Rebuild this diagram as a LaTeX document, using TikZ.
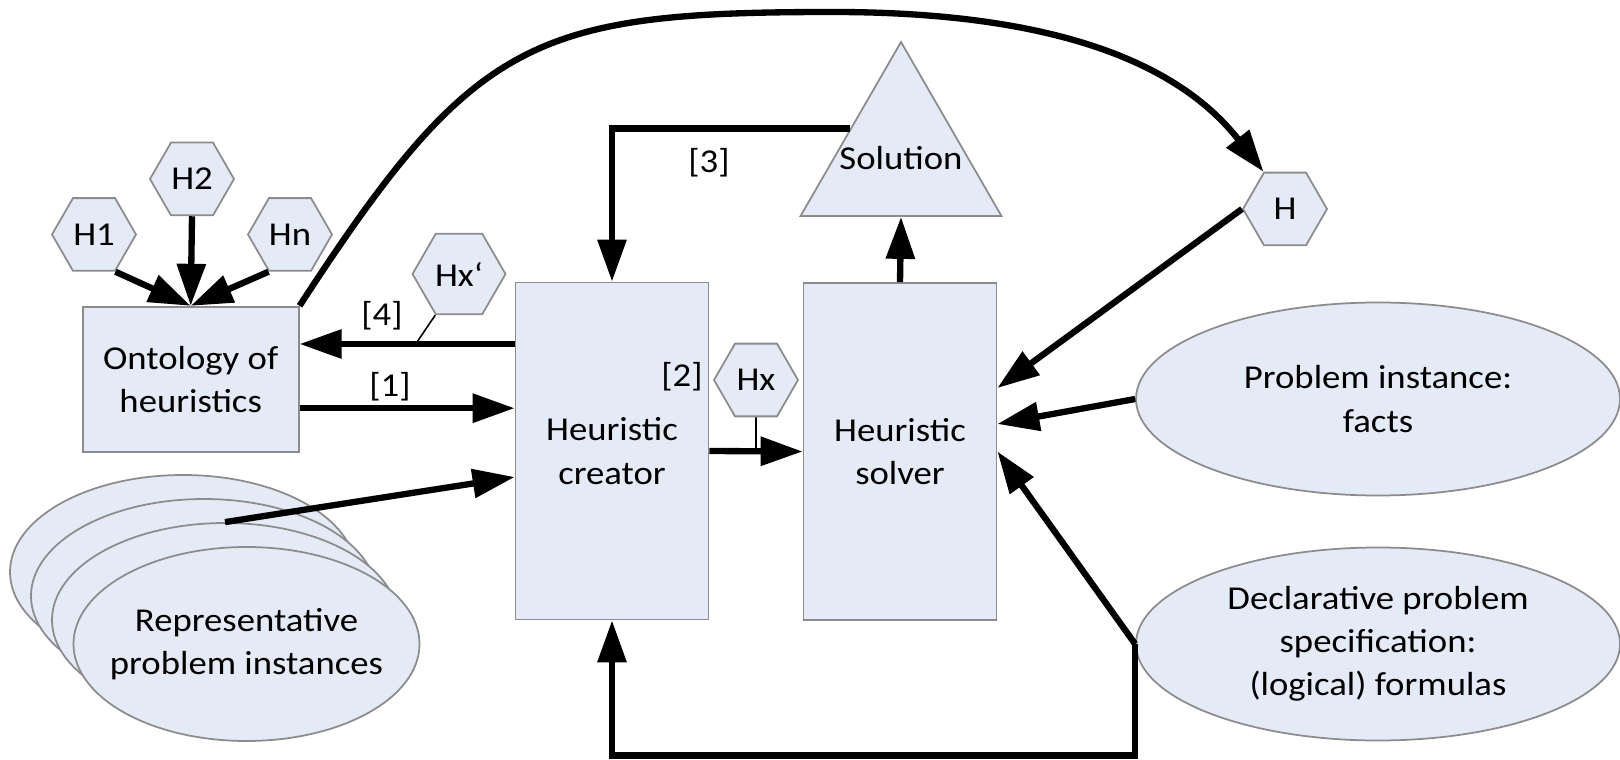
\documentclass[tikz,border=0pt]{standalone}
\usepackage{fontspec}
\setmainfont{Carlito}[FakeStretch=1.1]
\usetikzlibrary{arrows.meta,shapes.geometric,calc}
\definecolor{shapefill}{RGB}{228,234,246}
\definecolor{shapeedge}{RGB}{140,140,140}
\tikzset{
    flow diagram/.style = {>={Triangle[length=4.2mm,width=2.8mm]},
                           font=\fontsize{9.5}{12.3}\selectfont},
    line/.style         = {line width=1.8pt},
    tether/.style       = {line width=0.45pt},
    part/.style         = {draw=shapeedge, fill=shapefill, line width=0.5pt},
    block/.style        = {part, align=center, inner sep=0pt},
    hblock/.style       = {block, minimum width=2.16cm, minimum height=1.45cm},
    vblock/.style       = {block, minimum width=1.93cm, minimum height=3.37cm},
    hexa/.style         = {part, regular polygon, regular polygon sides=6,
                           minimum size=8.4mm, inner sep=0pt},
    blob/.style         = {part, ellipse, align=center, inner sep=0pt,
                           minimum width=4.84cm, minimum height=1.93cm},
    stack/.style        = {part, ellipse, inner sep=0pt,
                           minimum width=3.46cm, minimum height=1.94cm},
    tagnum/.style       = {inner sep=1pt}
}
\def\archtop{7.47}

\begin{document}
\begin{tikzpicture}[flow diagram]
\useasboundingbox (0,0) rectangle (16.2,7.59);

% ================= Ontology and its heuristics =================
\node[hblock] (onto) at (1.907,3.798) {Ontology of\\heuristics};
\node[hexa] (h1) at (0.94,5.245) {H1};
\node[hexa] (h2) at (1.92,5.80) {H2};
\node[hexa] (hn) at (2.90,5.245) {Hn};
\draw[line,->] (h1.300) -- (onto.north);
\draw[line,->] (h2.south) -- (onto.north);
\draw[line,->] (hn.240) -- (onto.north);

% ================= Representative instances =================
\foreach \i/\x/\y in {1/1.83/1.87, 2/2.04/1.63, 3/2.25/1.39}
    \node[stack] (rep\i) at (\x,\y) {};
\node[stack, label={[align=center]center:Representative\\problem instances}]
    (rep4) at (2.465,1.15) {};

% ================= Creator and solver =================
\node[vblock] (creator) at (6.12,3.08) {Heuristic\\creator};
\node[vblock] (solver) at (9.00,3.075) {Heuristic\\solver};
\node[part, regular polygon, regular polygon sides=3, minimum size=2.32cm,
      inner sep=0pt, label=center:Solution] (sol) at (9.01,6.01) {};
\node[hexa, minimum size=9.3mm] (hxp) at (4.59,4.85) {Hx‘};
\node[hexa] (hx) at (7.56,3.79) {Hx};
\node[hexa] (h) at (12.85,5.50) {H};

% ================= Problem inputs =================
\node[blob] (facts) at (13.78,3.60) {Problem instance:\\facts};
\node[blob] (spec) at (13.78,1.15) {Declarative problem\\specification:\\(logical) formulas};

% ================= Step labels =================
\node[tagnum] (t1) at (3.90,3.72) {[1]};
\node[tagnum] (t2) at (6.82,3.82) {[2]};
\node[tagnum] (t3) at (7.09,5.96) {[3]};
\node[tagnum] (t4) at (3.82,4.43) {[4]};

% ================= Connectors =================
\coordinate (a1) at ([yshift=-0.29cm]onto.east);
\draw[line,->] (a1) -- (a1 -| creator.west);
\coordinate (a4) at ([yshift=1.07cm]creator.west);
\draw[line,->] (a4) -- coordinate[pos=0.46] (a4x) (a4 -| onto.east);
\draw[tether] (hxp.240) -- (a4x);
\draw[line,->] (rep3.north) -- ([yshift=-0.26cm]creator.west);
\draw[line,->] (creator.east) -- coordinate[midway] (a2x) (solver.west);
\draw[tether] (hx.south) -- (a2x);
\draw[line,->] (solver.north) -- (sol.side 2);
\draw[line,->] (sol.side 1) -| (creator.north);

% Feedback arch from the ontology to the new heuristic.
\coordinate (arch) at (8.33,\archtop);
\draw[line,->] (onto.north east) .. controls +(57:3.2) and +(180:3) .. (arch)
    .. controls +(0:2) and +(128:1.5) .. (h.120);
\draw[line,->] (h.west) -- ([yshift=0.635cm]solver.east);
\draw[line,->] (facts.west) -- ([yshift=0.275cm]solver.east);
\draw[line,->] (spec.west) -- (solver.east);
\coordinate (floor) at ([yshift=-1.35cm]creator.south);
\draw[line,->] (spec.west) |- (floor) -- (creator.south);

\end{tikzpicture}
\end{document}
